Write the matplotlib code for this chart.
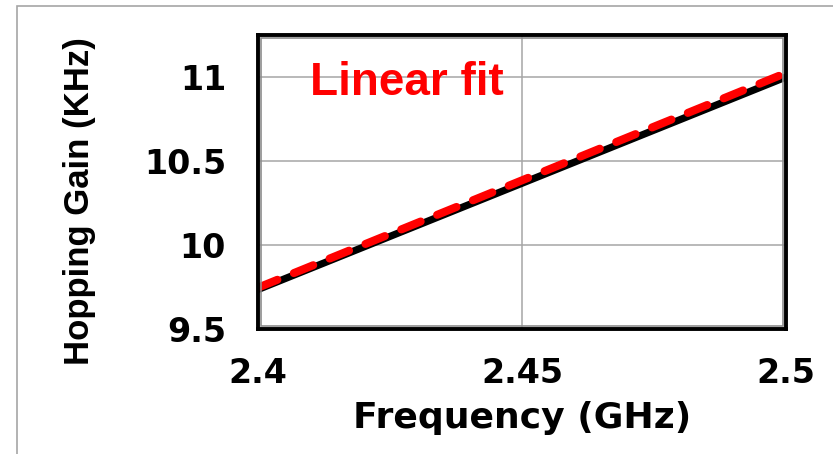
import matplotlib
matplotlib.use("Agg")
import matplotlib.pyplot as plt
from matplotlib import font_manager
from matplotlib.patches import Rectangle

# Measured hopping gain vs carrier frequency, and its linear fit
freq_ghz = [2.40, 2.42, 2.44, 2.46, 2.48, 2.50]
gain_khz = [9.735, 9.988, 10.241, 10.494, 10.747, 11.000]
fit_freq_ghz = [2.40, 2.50]
fit_gain_khz = [9.746, 11.024]

x_ticks = [2.40, 2.45, 2.50]
x_tick_labels = ["2.4", "2.45", "2.5"]
y_ticks = [9.5, 10.0, 10.5, 11.0]
y_tick_labels = ["9.5", "10", "10.5", "11"]

names = {f.name for f in font_manager.fontManager.ttflist}
wide_font = "DejaVu Sans"
main_font = "Liberation Sans"
has_narrow = "Liberation Sans Narrow" in names
narrow_font = "Liberation Sans Narrow" if has_narrow else main_font
ylabel_size = 30 if has_narrow else 25

W, H = 833, 454
fig = plt.figure(figsize=(W / 100, H / 100), dpi=100)
fig.patch.set_facecolor("white")

# thin grey frame around the figure (left and top edges visible)
fig.add_artist(Rectangle((17 / W, -0.1), 1.2, (H - 6) / H + 0.1,
                         transform=fig.transFigure, fill=False,
                         edgecolor="#a6a6a6", linewidth=1.2))

L, R, T, B = 258, 786, 35, 329
ax = fig.add_axes([L / W, (H - B) / H, (R - L) / W, (B - T) / H])

ax.plot(freq_ghz, gain_khz, color="black", linewidth=5.2,
        solid_capstyle="butt", zorder=3)
ax.plot(fit_freq_ghz, fit_gain_khz, color="#ff0000", linewidth=5.8,
        dashes=(2.6, 2.2), dash_capstyle="round", zorder=4)

ax.set_xlim(2.40, 2.50)
ax.set_ylim(9.5, 11.25)
ax.set_xticks(x_ticks)
ax.set_xticklabels(x_tick_labels)
ax.set_yticks(y_ticks)
ax.set_yticklabels(y_tick_labels)
ax.tick_params(length=0, labelsize=24)
ax.tick_params(axis="x", pad=20)
ax.tick_params(axis="y", pad=23)
for lab in ax.get_xticklabels() + ax.get_yticklabels():
    lab.set_fontfamily(wide_font)
    lab.set_fontweight("bold")

ax.grid(True, color="#a6a6a6", linewidth=1.1)
ax.set_axisbelow(True)

for s in ax.spines.values():
    s.set_color("black")
    s.set_linewidth(2.8)
    s.set_zorder(6)

# grey inner edge just inside the black frame
aw, ah = R - L, B - T
ax.add_patch(Rectangle((3.4 / aw, 3.4 / ah), 1 - 6.8 / aw, 1 - 6.8 / ah,
                       transform=ax.transAxes, fill=False,
                       edgecolor="#8c8c8c", linewidth=1.2, zorder=5, clip_on=False))

ax.set_xlabel("Frequency (GHz)", fontsize=26, fontweight="bold",
              family=wide_font, labelpad=8)
fig.text(80 / W, 1 - 201 / H, "Hopping Gain (KHz)", rotation=90,
         ha="center", va="center", fontsize=ylabel_size, fontweight="bold",
         family=narrow_font)

ax.text(0.098, 0.838, "Linear fit", transform=ax.transAxes, color="#ff0000",
        fontsize=33, fontweight="bold", family=main_font, ha="left", va="center")

fig.savefig("out.png", dpi=100, facecolor="white")
